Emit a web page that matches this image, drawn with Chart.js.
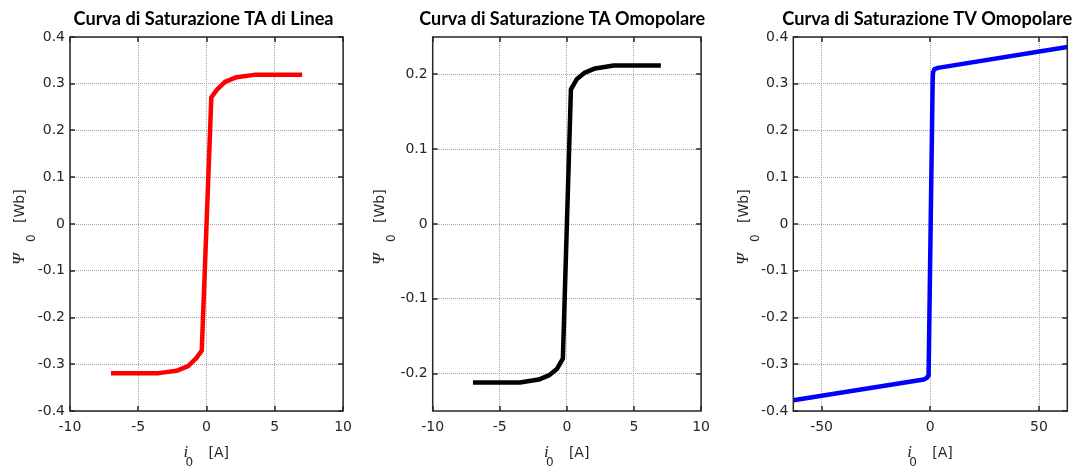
<!DOCTYPE html>
<html lang="it">
<head>
<meta charset="UTF-8">
<title>Curve di Saturazione</title>
<script src="https://cdn.jsdelivr.net/npm/chart.js"></script>
<style>
  body { margin: 0; background: #fff; }
  .wrap { position: relative; width: 1077px; height: 466px; }
  canvas { position: absolute; top: 0; }
</style>
</head>
<body>
<div class="wrap">
  <canvas id="g1" width="360" height="466" style="left:0"></canvas>
  <canvas id="g2" width="358" height="466" style="left:360px"></canvas>
  <canvas id="g3" width="359" height="466" style="left:718px"></canvas>
</div>
<script>
// TA di Linea
const lineaI   = [-7, -3.5, -2.2, -1.35, -0.75, -0.35, 0.35, 0.75, 1.35, 2.2, 3.5, 7];
const lineaPsi = [-0.319, -0.319, -0.314, -0.304, -0.287, -0.271, 0.271, 0.287, 0.304, 0.314, 0.319, 0.319];
// TA Omopolare
const omoI   = [-7, -3.5, -2.1, -1.3, -0.75, -0.3, 0.3, 0.75, 1.3, 2.1, 3.5, 7];
const omoPsi = [-0.212, -0.212, -0.208, -0.202, -0.194, -0.18, 0.18, 0.194, 0.202, 0.208, 0.212, 0.212];
// TV Omopolare
const tvI   = [-63, -3, -1.5, -0.9, -0.75, 1.1, 1.25, 1.9, 3.5, 63];
const tvPsi = [-0.377, -0.3325, -0.329, -0.324, -0.31, 0.31, 0.324, 0.3315, 0.334, 0.3785];

// tick values
const ticksX12 = [-10, -5, 0, 5, 10];
const ticksX3  = [-50, 0, 50];
const ticksY13 = [-0.4, -0.3, -0.2, -0.1, 0, 0.1, 0.2, 0.3, 0.4];
const ticksY2  = [-0.2, -0.1, 0, 0.1, 0.2];

const titles = ['Curva di Saturazione TA di Linea', 'Curva di Saturazione TA Omopolare', 'Curva di Saturazione TV Omopolare'];

const INK = '#262626';
const TICK_FONT = { family: '"DejaVu Sans", sans-serif', size: 14 };

function drawParts(ctx, parts) {
  parts.forEach(p => {
    ctx.font = p.font;
    ctx.fillText(p.t, p.dx, p.dy);
  });
}

// box, inward ticks, title and axis labels
const frame = {
  id: 'frame',
  afterDraw(chart, args, o) {
    const { ctx, chartArea: a, scales: { x, y } } = chart;
    ctx.save();
    ctx.strokeStyle = INK;
    ctx.lineWidth = 1.5;
    ctx.beginPath();
    x.ticks.forEach(t => {
      const px = Math.round(x.getPixelForValue(t.value));
      ctx.moveTo(px, a.bottom); ctx.lineTo(px, a.bottom - 5);
      ctx.moveTo(px, a.top); ctx.lineTo(px, a.top + 5);
    });
    y.ticks.forEach(t => {
      const py = Math.round(y.getPixelForValue(t.value));
      ctx.moveTo(a.left, py); ctx.lineTo(a.left + 5, py);
      ctx.moveTo(a.right, py); ctx.lineTo(a.right - 5, py);
    });
    ctx.stroke();
    ctx.strokeRect(a.left, a.top, a.right - a.left, a.bottom - a.top);

    const cx = (a.left + a.right) / 2;
    const cy = (a.top + a.bottom) / 2;

    // title, squeezed to the width it has in the original
    ctx.fillStyle = '#000';
    ctx.textAlign = 'center';
    ctx.textBaseline = 'alphabetic';
    ctx.font = 'bold 19px Lato, "Open Sans", sans-serif';
    const w = ctx.measureText(o.title).width;
    ctx.save();
    ctx.translate(cx + o.titleDx, 25);
    ctx.scale(Math.min(1, o.titleW / w), 1);
    ctx.fillText(o.title, 0, 0);
    ctx.restore();

    // x label: i_0 [A]
    ctx.fillStyle = INK;
    ctx.textAlign = 'left';
    ctx.save();
    ctx.translate(cx, 457);
    drawParts(ctx, [
      { t: 'i', font: 'italic 17px "Liberation Serif", serif', dx: -23, dy: 0 },
      { t: '0', font: '12px "DejaVu Sans", sans-serif', dx: -21, dy: 9 },
      { t: '[A]', font: '14px "DejaVu Sans", sans-serif', dx: 2, dy: 0 }
    ]);
    ctx.restore();

    // y label: Psi_0 [Wb]
    ctx.save();
    ctx.translate(a.left - o.ylabOff, cy);
    ctx.rotate(-Math.PI / 2);
    drawParts(ctx, [
      { t: '\u03A8', font: 'italic 17px "Liberation Serif", serif', dx: -41, dy: 0 },
      { t: '0', font: '12px "DejaVu Sans", sans-serif', dx: -18, dy: 11 },
      { t: '[Wb]', font: '14px "DejaVu Sans", sans-serif', dx: 1, dy: 0 }
    ]);
    ctx.restore();

    ctx.restore();
  }
};

function axis(min, max, ticks, fit, pad) {
  return {
    type: 'linear',
    min: min,
    max: max,
    afterBuildTicks: s => { s.ticks = ticks.map(v => ({ value: v })); },
    afterFit: fit,
    ticks: {
      color: INK,
      font: TICK_FONT,
      padding: pad,
      autoSkip: false,
      maxRotation: 0,
      callback: v => String(v)
    },
    grid: { color: '#a6a6a6', lineWidth: 1, drawTicks: false },
    border: { display: false, dash: [1, 1] }
  };
}

function makeChart(id, xs, ys, color, c) {
  return new Chart(document.getElementById(id), {
    type: 'line',
    data: {
      datasets: [{
        data: xs.map((v, k) => ({ x: v, y: ys[k] })),
        borderColor: color,
        borderWidth: 4.5,
        pointRadius: 0,
        tension: 0,
        fill: false,
        clip: 0,
        borderJoinStyle: 'round'
      }]
    },
    options: {
      responsive: false,
      animation: false,
      devicePixelRatio: 1,
      layout: { padding: { top: 37, right: c.padRight, bottom: 0, left: 0 } },
      plugins: {
        legend: { display: false },
        tooltip: { enabled: false },
        title: { display: false },
        frame: { title: c.title, titleDx: c.titleDx, titleW: c.titleW, ylabOff: c.ylabOff }
      },
      scales: {
        x: axis(c.xMin, c.xMax, c.xTicks, s => { s.height = 55; }, 8),
        y: axis(c.yMin, c.yMax, c.yTicks, s => { s.width = c.yWidth; }, 5)
      }
    },
    plugins: [frame]
  });
}

makeChart('g1', lineaI, lineaPsi, '#ff0000', {
  title: titles[0], titleDx: -3, titleW: 260, ylabOff: 46,
  xMin: -10, xMax: 10, xTicks: ticksX12,
  yMin: -0.4, yMax: 0.4, yTicks: ticksY13,
  yWidth: 70, padRight: 13.5
});
makeChart('g2', omoI, omoPsi, '#000000', {
  title: titles[1], titleDx: -4.7, titleW: 286, ylabOff: 49,
  xMin: -10, xMax: 10, xTicks: ticksX12,
  yMin: -0.25, yMax: 0.25, yTicks: ticksY2,
  yWidth: 72.7, padRight: 11.3
});
makeChart('g3', tvI, tvPsi, '#0000ff', {
  title: titles[2], titleDx: -3, titleW: 290, ylabOff: 45,
  xMin: -63, xMax: 63, xTicks: ticksX3,
  yMin: -0.4, yMax: 0.4, yTicks: ticksY13,
  yWidth: 75.3, padRight: 9.7
});
</script>
</body>
</html>
